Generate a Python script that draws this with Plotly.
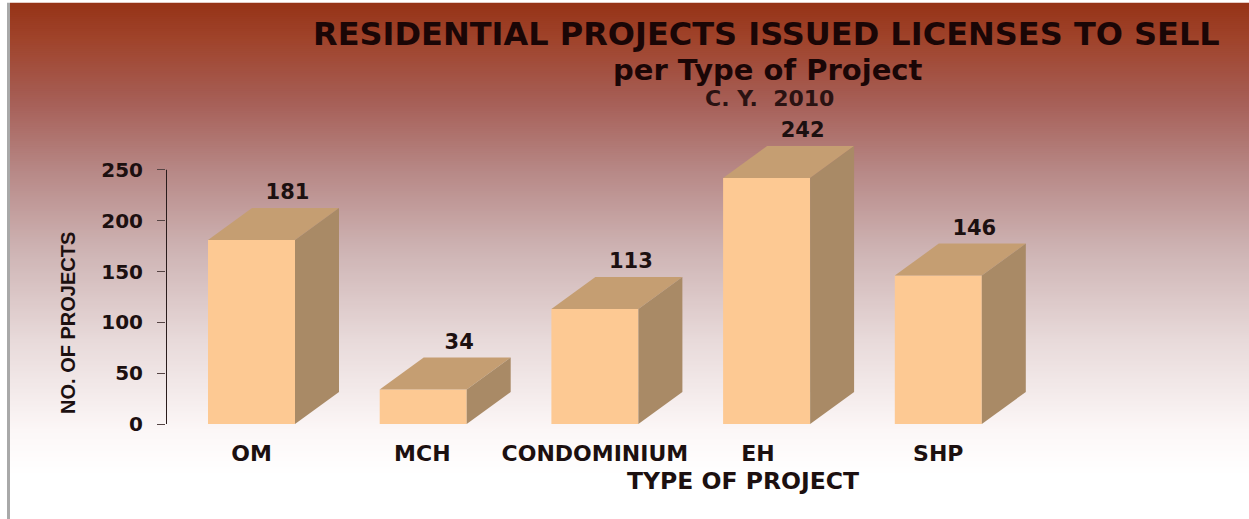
import plotly.graph_objects as go

categories = ["OM", "MCH", "CONDOMINIUM", "EH", "SHP"]
values = [181, 34, 113, 242, 146]
y_ticks = [0, 50, 100, 150, 200, 250]
title_lines = ["RESIDENTIAL PROJECTS ISSUED LICENSES TO SELL", "per Type of Project", "C. Y.  2010"]
x_axis_title = "TYPE OF PROJECT"
y_axis_title = "NO. OF PROJECTS"
label_shift = [0, -0.005, 0, -0.05, 0]

W, H = 1249, 519
PX_PER_UNIT = 254 / 250
Y_MAX = 300
L, R, B = 166, 1100, 424
T = B - Y_MAX * PX_PER_UNIT
PX_PER_CAT = 171.7
X0 = 251.5
DX = 44 / PX_PER_CAT
DY = 32 / PX_PER_UNIT
BAR_W = 87 / PX_PER_CAT
FRONT, TOP, SIDE = "#fdc993", "#c59e72", "#a98a66"
INK = "#1c1010"
BOLD = "DejaVu Sans"
X_LEFT = (L - X0) / PX_PER_CAT
X_RIGHT = (R - X0) / PX_PER_CAT


def px(x):
    return (x - L) / (R - L)


def py(y):
    return (B - y) / (B - T)


stops = [(3, (150, 52, 24)), (40, (160, 68, 44)), (100, (166, 94, 86)), (170, (183, 136, 134)),
         (250, (206, 180, 180)), (340, (232, 218, 218)), (430, (252, 247, 247)), (475, (255, 255, 255)), (519, (255, 255, 255))]


def grad(y):
    for (a, ca), (b, cb) in zip(stops, stops[1:]):
        if a <= y <= b:
            t = (y - a) / (b - a)
            return "rgb(%d,%d,%d)" % tuple(round(p + (q - p) * t) for p, q in zip(ca, cb))
    return "white"


shapes = []
for y in range(3, 480, 2):
    # each band overlaps the next one so no seams show between them
    shapes.append(dict(type="rect", xref="paper", yref="paper", layer="below", line_width=0, fillcolor=grad(y),
                       x0=px(10), x1=px(W), y0=py(y), y1=py(y + 5)))
shapes.append(dict(type="rect", xref="paper", yref="paper", layer="below", line_width=0, fillcolor="#a9a9a9",
                   x0=px(7), x1=px(10), y0=py(3), y1=py(H)))

fig = go.Figure()
xs = list(range(len(categories)))

fig.add_trace(go.Scatter(x=[X_LEFT, X_LEFT], y=[0, y_ticks[-1]], mode="lines", line=dict(color="#2a1c1c", width=2),
                         cliponaxis=False, hoverinfo="skip", showlegend=False))

for i, v in zip(xs, values):
    l, r = i - BAR_W / 2, i + BAR_W / 2
    fig.add_trace(go.Scatter(x=[l, r, r + DX, l + DX, l], y=[v, v, v + DY, v + DY, v], mode="lines", fill="toself",
                             fillcolor=TOP, line=dict(width=0), hoverinfo="skip", showlegend=False))
    fig.add_trace(go.Scatter(x=[r, r + DX, r + DX, r, r], y=[0, DY, v + DY, v, 0], mode="lines", fill="toself",
                             fillcolor=SIDE, line=dict(width=0), hoverinfo="skip", showlegend=False))

fig.add_trace(go.Bar(x=xs, y=values, width=BAR_W, marker=dict(color=FRONT, line_width=0), showlegend=False))
fig.add_trace(go.Scatter(x=[i + 36 / PX_PER_CAT for i in xs], y=[v + 46 / PX_PER_UNIT for v in values],
                         mode="text", text=[str(v) for v in values], textposition="middle center",
                         textfont=dict(family=BOLD, size=21, color=INK, weight="bold"), cliponaxis=False, showlegend=False))


def note(text, x, y, size, family=BOLD, angle=0, color=INK, weight="bold"):
    return dict(text=text, x=px(x), y=py(y), xref="paper", yref="paper", showarrow=False, xanchor="center", yanchor="middle",
                textangle=angle, font=dict(family=family, size=size, color=color, weight=weight))


fig.update_layout(
    width=W, height=H, margin=dict(l=L, r=W - R, t=T, b=H - B), paper_bgcolor="white", plot_bgcolor="rgba(0,0,0,0)",
    shapes=shapes, showlegend=False,
    xaxis=dict(range=[X_LEFT, X_RIGHT], tickmode="array",
               tickvals=[i + s for i, s in zip(xs, label_shift)], ticktext=categories, showgrid=False, zeroline=False, showline=False,
               ticks="", ticklabelstandoff=14, tickfont=dict(family=BOLD, size=22, color=INK, weight="bold")),
    yaxis=dict(range=[0, Y_MAX], tickmode="array", tickvals=y_ticks, showgrid=False, zeroline=False, showline=False,
               ticks="outside", ticklen=8, tickcolor="#554444", tickwidth=1,
               ticklabelstandoff=10, tickfont=dict(family=BOLD, size=20, color=INK, weight="bold")),
    annotations=[
        note(title_lines[0], 766, 34, 32, color="#1a0606"),
        note(title_lines[1], 768, 70, 29, color="#1a0606"),
        note(title_lines[2], 769, 99, 22, color="#2a1212"),
        note(x_axis_title, 743, 481, 23.5),
        note(y_axis_title, 68, 323, 20, family="Liberation Sans", angle=-90),
    ],
)

fig.write_html("out.html", config=dict(displayModeBar=False),
               post_script="document.body.style.margin='0';document.body.style.overflow='hidden';")
